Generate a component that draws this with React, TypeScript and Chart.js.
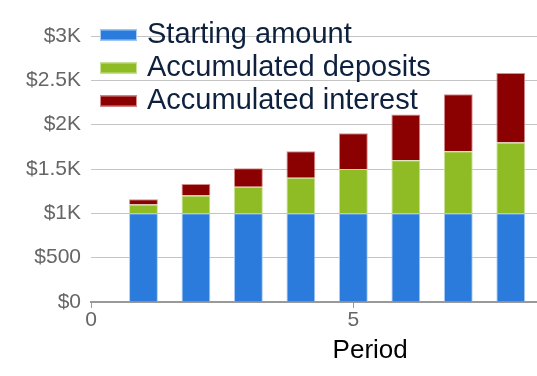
import React, { useEffect, useRef } from "react";
import { Chart, registerables } from "chart.js";

Chart.register(...registerables);

const periods = [1, 2, 3, 4, 5, 6, 7, 8];
const startingAmount = [1000, 1000, 1000, 1000, 1000, 1000, 1000, 1000];
const accumulatedDeposits = [100, 200, 300, 400, 500, 600, 700, 800];
const accumulatedInterest = [60, 130, 209, 300, 402, 516, 643, 784];
const seriesNames = ["Starting amount", "Accumulated deposits", "Accumulated interest"];
const yTicks = [0, 500, 1000, 1500, 2000, 2500, 3000];
const yTickLabels = ["$0", "$500", "$1K", "$1.5K", "$2K", "$2.5K", "$3K"];
const xTitle = "Period";

const FONT = "'Liberation Sans', Arial, sans-serif";

const overlayLegend = {
  id: "overlayLegend",
  afterDatasetsDraw(chart: any) {
    const { ctx, chartArea } = chart;
    ctx.save();
    ctx.font = `29px ${FONT}`;
    ctx.textBaseline = "middle";
    ctx.textAlign = "left";
    const x0 = chartArea.left + 9;
    const y0 = chartArea.top - 1;
    chart.data.datasets.forEach((ds: any, i: number) => {
      const y = y0 + i * 33;
      ctx.fillStyle = ds.backgroundColor;
      ctx.fillRect(x0, y - 5.5, 37, 11);
      ctx.strokeStyle = ds.borderColor;
      ctx.lineWidth = 1;
      ctx.strokeRect(x0 + 0.5, y - 5, 36, 10);
      ctx.fillStyle = "#0d213f";
      ctx.fillText(ds.label, x0 + 47, y);
    });
    ctx.restore();
  },
};

const periodTitle = {
  id: "periodTitle",
  afterDraw(chart: any) {
    const { ctx, chartArea } = chart;
    ctx.save();
    ctx.font = `26px ${FONT}`;
    ctx.fillStyle = "#000";
    ctx.textAlign = "center";
    ctx.textBaseline = "middle";
    ctx.fillText(xTitle, chartArea.left + (chartArea.right - chartArea.left) * 0.626, chartArea.bottom + 49);
    ctx.restore();
  },
};

export default function App() {
  const ref = useRef<HTMLCanvasElement>(null);
  useEffect(() => {
    const mk = (vals: number[]) => periods.map((p, i) => ({ x: p, y: vals[i] }));
    const chart = new Chart(ref.current!, {
      type: "bar",
      data: {
        datasets: [
          {
            label: seriesNames[0],
            data: mk(startingAmount) as any,
            backgroundColor: "#2a7bdb",
            borderColor: "rgba(170,205,245,1)",
            borderWidth: 1,
          },
          {
            label: seriesNames[1],
            data: mk(accumulatedDeposits) as any,
            backgroundColor: "#8fbb24",
            borderColor: "rgba(200,225,150,1)",
            borderWidth: 1,
          },
          {
            label: seriesNames[2],
            data: mk(accumulatedInterest) as any,
            backgroundColor: "#8b0000",
            borderColor: "rgba(215,140,140,1)",
            borderWidth: 1,
          },
        ],
      },
      options: {
        animation: false,
        responsive: false,
        maintainAspectRatio: false,
        barPercentage: 0.55,
        categoryPercentage: 1,
        layout: { padding: { top: 36, right: 0, left: 0, bottom: 0 } },
        plugins: { legend: { display: false }, tooltip: { enabled: false } },
        scales: {
          x: {
            type: "linear",
            stacked: true,
            min: 0,
            max: 8.5,
            offset: false,
            grid: { display: true, drawOnChartArea: false, drawTicks: true, tickLength: 6, color: "#999", offset: false },
            border: { display: true, color: "#999", width: 2 },
            ticks: {
              stepSize: 5,
              includeBounds: false,
              padding: 0,
              color: "#666",
              font: { family: FONT, size: 21 },
            },
            afterFit: (s: any) => {
              s.height = 74;
            },
          },
          y: {
            stacked: true,
            min: 0,
            max: 3000,
            afterBuildTicks: (s: any) => {
              s.ticks = yTicks.map((v) => ({ value: v }));
            },
            grid: { color: "#c4c4c4", drawTicks: false, lineWidth: 1 },
            border: { display: false },
            ticks: {
              padding: 10,
              color: "#666",
              font: { family: FONT, size: 21 },
              callback: (v: any) => {
                const i = yTicks.indexOf(Number(v));
                return i >= 0 ? yTickLabels[i] : "";
              },
            },
            afterFit: (s: any) => {
              s.width = 91;
            },
          },
        },
      },
      plugins: [overlayLegend, periodTitle],
    });
    return () => chart.destroy();
  }, []);
  return (
    <div style={{ position: "absolute", left: 0, top: 0, width: 537, height: 376, background: "#fff" }}>
      <canvas ref={ref} width={537} height={376} style={{ width: 537, height: 376 }} />
    </div>
  );
}
